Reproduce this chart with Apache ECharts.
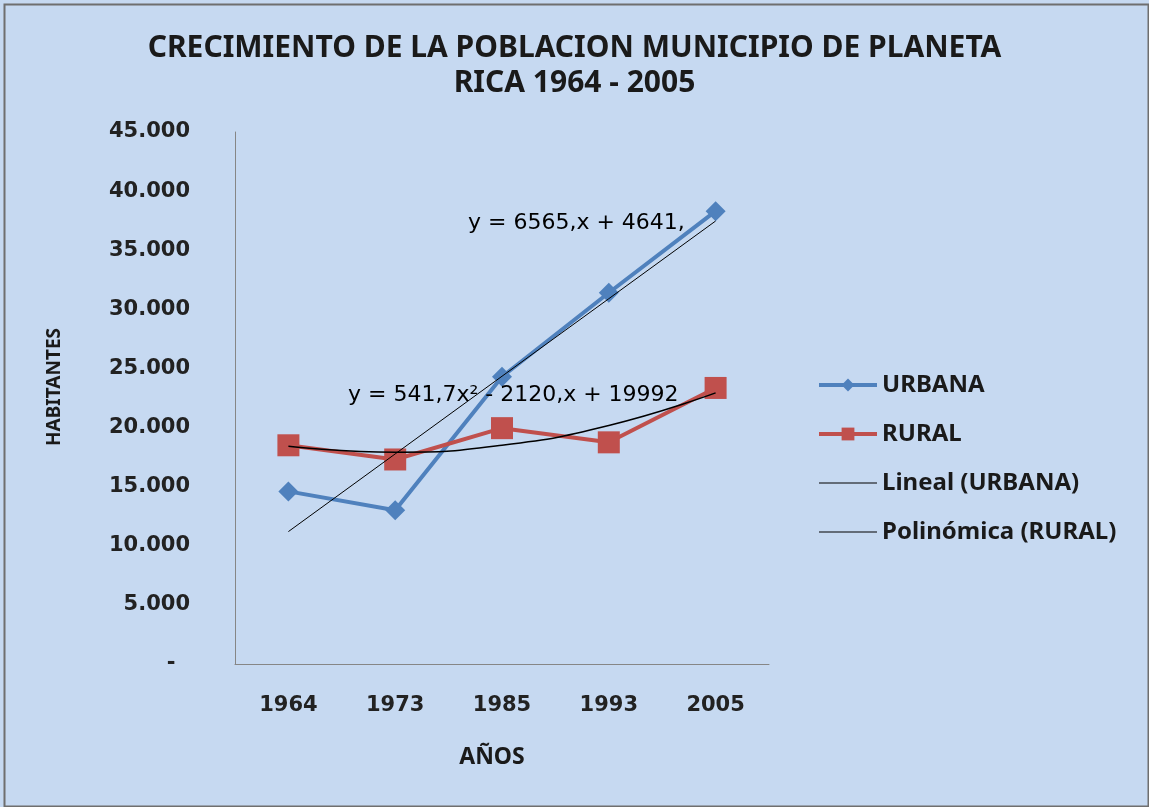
<!DOCTYPE html>
<html>
<head>
<meta charset="utf-8">
<script src="https://cdn.jsdelivr.net/npm/echarts@6/dist/echarts.min.js"></script>
<style>
  html, body { margin: 0; padding: 0; }
  #chart { width: 1149px; height: 807px; }
</style>
</head>
<body>
<div id="chart"></div>
<script>
// datos
const years = ["1964", "1973", "1985", "1993", "2005"];
const urbana = [14600, 13000, 24300, 31400, 38300];
const rural = [18500, 17300, 19950, 18750, 23350];
// lineas de tendencia (Excel)
const linealUrbana = [11200, 17770, 24340, 30900, 37470];
const polinomicaRural = [18410, 17920, 18510, 20180, 22930];
const yTicks = { min: 0, max: 45000, interval: 5000 };

const labelFont = "'DejaVu Sans'";
const titleFont = "'Noto Sans'";
const flatLine = "path://M0,0 L60,0 L60,1 L0,1 Z";

const myChart = echarts.init(document.getElementById("chart"));

const option = {
  backgroundColor: "#c6d9f1",
  animation: false,
  title: {
    text: "CRECIMIENTO DE LA POBLACION MUNICIPIO DE PLANETA\nRICA 1964 - 2005",
    left: "center",
    top: 26,
    textStyle: {
      fontFamily: titleFont,
      fontWeight: "bold",
      fontSize: 30,
      lineHeight: 35,
      color: "#1a1a1a",
    },
  },
  grid: {
    left: 235,
    right: 380,
    top: 132,
    bottom: 143,
  },
  legend: {
    orient: "vertical",
    left: 812,
    top: 368,
    itemWidth: 58,
    itemHeight: 16,
    itemGap: 25,
    data: [
      { name: "URBANA", lineStyle: { width: 4 } },
      { name: "RURAL", lineStyle: { width: 4 } },
      { name: "Lineal (URBANA)", icon: flatLine, itemStyle: { color: "#000" } },
      { name: "Polinómica (RURAL)", icon: flatLine, itemStyle: { color: "#000" } },
    ],
    textStyle: {
      fontFamily: titleFont,
      fontWeight: "bold",
      fontSize: 24,
      color: "#1a1a1a",
    },
  },
  xAxis: {
    type: "category",
    data: years,
    boundaryGap: true,
    axisLine: { lineStyle: { color: "#868686", width: 1 } },
    axisTick: { show: false },
    axisLabel: {
      margin: 31,
      fontFamily: labelFont,
      fontWeight: "bold",
      fontSize: 21,
      color: "#222",
    },
  },
  yAxis: {
    type: "value",
    min: yTicks.min,
    max: yTicks.max,
    interval: yTicks.interval,
    axisLine: { show: true, lineStyle: { color: "#868686", width: 1 } },
    axisTick: { show: false },
    splitLine: { show: false },
    axisLabel: {
      margin: 45,
      fontFamily: labelFont,
      fontWeight: "bold",
      fontSize: 21,
      color: "#222",
      formatter: (v) => (v === 0 ? "-  " : v.toLocaleString("de-DE")),
    },
  },
  graphic: [
    {
      type: "rect",
      left: 2,
      top: 2,
      shape: { width: 1144, height: 802 },
      style: { fill: "none", stroke: "#6f6f6f", lineWidth: 2 },
      silent: true,
    },
    {
      type: "text",
      x: 55,
      y: 387,
      rotation: Math.PI / 2,
      style: {
        text: "HABITANTES",
        font: "bold 19px 'Noto Sans'",
        fill: "#1a1a1a",
        align: "center",
        verticalAlign: "middle",
      },
    },
    {
      type: "text",
      x: 492,
      y: 757,
      style: {
        text: "AÑOS",
        font: "bold 23px 'Noto Sans'",
        fill: "#1a1a1a",
        align: "center",
        verticalAlign: "middle",
      },
    },
    {
      type: "text",
      x: 468,
      y: 223,
      z: 100,
      style: {
        text: "y = 6565,x + 4641,",
        font: "22px 'DejaVu Sans'",
        fill: "#000",
        verticalAlign: "middle",
      },
    },
    {
      type: "text",
      x: 348,
      y: 395,
      z: 100,
      style: {
        text: "y = 541,7x² - 2120,x + 19992",
        font: "22px 'DejaVu Sans'",
        fill: "#000",
        verticalAlign: "middle",
      },
    },
  ],
  series: [
    {
      name: "URBANA",
      type: "line",
      data: urbana,
      symbol: "diamond",
      symbolSize: 20,
      color: "#4f81bd",
      lineStyle: { width: 4, color: "#4f81bd" },
      itemStyle: { color: "#4f81bd" },
    },
    {
      name: "RURAL",
      type: "line",
      data: rural,
      symbol: "rect",
      symbolSize: 22,
      color: "#c0504d",
      lineStyle: { width: 4, color: "#c0504d" },
      itemStyle: { color: "#c0504d" },
    },
    {
      name: "Lineal (URBANA)",
      type: "line",
      data: linealUrbana,
      showSymbol: false,
      symbol: "none",
      color: "#000",
      lineStyle: { width: 1, color: "#000" },
      z: 5,
    },
    {
      name: "Polinómica (RURAL)",
      type: "line",
      data: polinomicaRural,
      smooth: true,
      showSymbol: false,
      symbol: "none",
      color: "#000",
      lineStyle: { width: 1.5, color: "#000" },
      z: 5,
    },
  ],
};

myChart.setOption(option);
</script>
</body>
</html>
